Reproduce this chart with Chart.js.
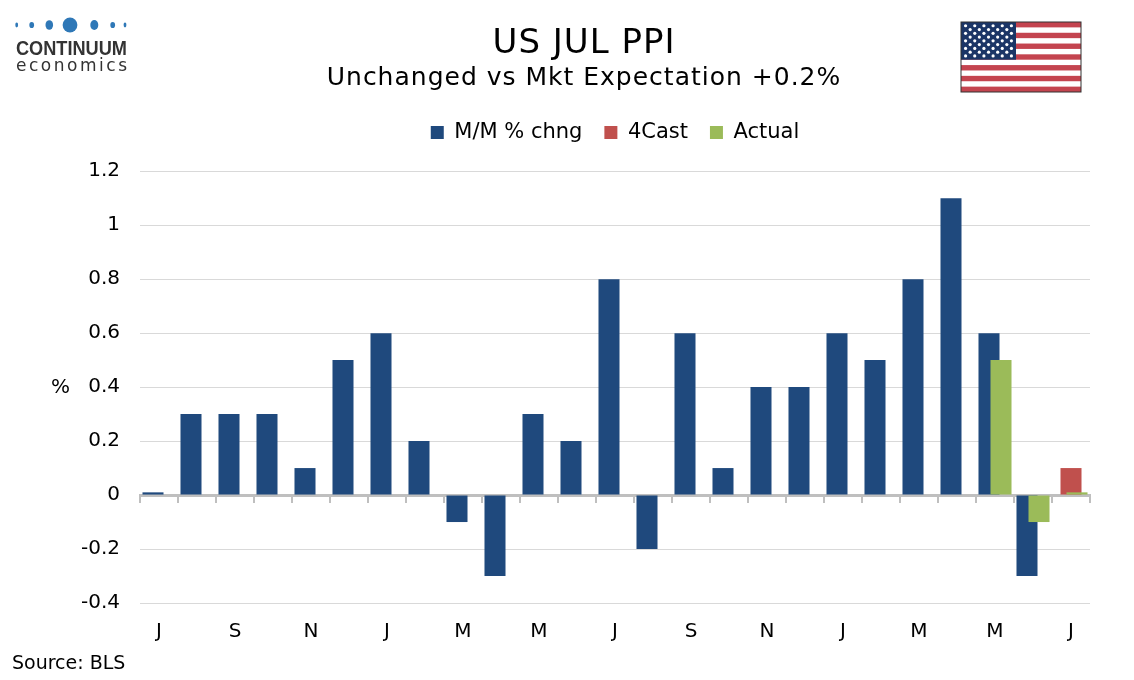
<!DOCTYPE html>
<html>
<head>
<meta charset="utf-8">
<title>US JUL PPI</title>
<script src="https://cdn.jsdelivr.net/npm/chart.js@4.4.1/dist/chart.umd.min.js"></script>
<style>
  body { margin: 0; background: #fff; font-family: "DejaVu Sans", Verdana, sans-serif; }
  #wrap { position: relative; width: 1134px; height: 680px; overflow: hidden; }
  #chart { position: absolute; left: 0; top: 0; }
  .title { position: absolute; left: 0; width: 1168px; text-align: center; color: #000; white-space: nowrap; }
  #t1 { top: 21px; font-size: 34px; letter-spacing: 1px; }
  #t2 { top: 62px; font-size: 25px; letter-spacing: 1px; }
  #pct { position: absolute; left: 51px; top: 374px; font-size: 20px; }
  #source { position: absolute; left: 12px; top: 651px; font-size: 19px; }
  #logo { position: absolute; left: 0; top: 0; }
  #flag { position: absolute; left: 960px; top: 21px; }
</style>
</head>
<body>
<div id="wrap">
  <canvas id="chart" width="1134" height="680"></canvas>
  <svg id="logo" width="140" height="80">
    <g fill="#2f78b7" id="dots"></g>
    <text x="16" y="55" font-family="Liberation Sans, Arial, sans-serif" font-weight="bold" font-size="21" fill="#333" textLength="111" lengthAdjust="spacingAndGlyphs">CONTINUUM</text>
    <text x="16" y="71" font-family="DejaVu Sans, sans-serif" font-size="17" fill="#333" textLength="111" lengthAdjust="spacing">economics</text>
  </svg>
  <div class="title" id="t1">US JUL PPI</div>
  <div class="title" id="t2">Unchanged vs Mkt Expectation +0.2%</div>
  <svg id="flag" width="122" height="73"></svg>
  <div id="pct">%</div>
  <div id="source">Source: BLS</div>
</div>
<script>
// month initials, Jul 2023 .. Jul 2025
const monthLabels = ['J', 'A', 'S', 'O', 'N', 'D',
    'J', 'F', 'M', 'A', 'M', 'J', 'J', 'A', 'S', 'O', 'N', 'D',
    'J', 'F', 'M', 'A', 'M', 'J', 'J'];
const mmChange = [0.01, 0.3, 0.3, 0.3, 0.1, 0.5,
    0.6, 0.2, -0.1, -0.3, 0.3, 0.2, 0.8, -0.2, 0.6, 0.1, 0.4, 0.4,
    0.6, 0.5, 0.8, 1.1, 0.6, -0.3, null];
const forecast = [null, null, null, null, null, null,
    null, null, null, null, null, null, null, null, null, null, null, null,
    null, null, null, null, null, null, 0.1];
const actual = [null, null, null, null, null, null,
    null, null, null, null, null, null, null, null, null, null, null, null,
    null, null, null, null, 0.5, -0.1, 0.01];
const yTicks = [-0.4, -0.2, 0, 0.2, 0.4, 0.6, 0.8, 1, 1.2];

const FONT = '"DejaVu Sans", Verdana, sans-serif';

// logo dots
const dots = [[16.7, 1.4, 2.4], [31.7, 2.4, 3.1], [49.3, 3.8, 4.8], [70, 7.4, 7.4],
    [94.3, 4, 5], [112.7, 2.4, 3.1], [125, 1.4, 2.4]];
const dotGroup = document.getElementById('dots');
dots.forEach(function (d) {
    const e = document.createElementNS('http://www.w3.org/2000/svg', 'ellipse');
    e.setAttribute('cx', d[0]); e.setAttribute('cy', 25);
    e.setAttribute('rx', d[1]); e.setAttribute('ry', d[2]);
    dotGroup.appendChild(e);
});

// flag
(function () {
    const svg = document.getElementById('flag');
    const W = 120, H = 70, sh = H / 13;
    let s = '<rect x="1" y="1" width="' + W + '" height="' + H + '" fill="#fff"/>';
    for (let i = 0; i < 13; i += 2) {
        s += '<rect x="1" y="' + (1 + i * sh) + '" width="' + W + '" height="' + sh + '" fill="#c4444f"/>';
    }
    const cw = 55, ch = sh * 7;
    s += '<rect x="1" y="1" width="' + cw + '" height="' + ch + '" fill="#1b3566"/>';
    for (let r = 0; r < 9; r++) {
        const n = r % 2 === 0 ? 6 : 5;
        for (let c = 0; c < n; c++) {
            const x = 1 + cw / 12 * (r % 2 === 0 ? 1 + c * 2 : 2 + c * 2);
            const y = 1 + ch / 10 * (r + 1);
            s += '<circle cx="' + x + '" cy="' + y + '" r="1.6" fill="#fff"/>';
        }
    }
    s += '<rect x="1" y="1" width="' + W + '" height="' + H + '" fill="none" stroke="#333" stroke-width="1"/>';
    svg.innerHTML = s;
})();

// draw datasets first to last so Actual sits on top
const drawInOrder = {
    id: 'drawInOrder',
    beforeDatasetsDraw(chart) {
        chart.getSortedVisibleDatasetMetas().forEach(function (meta) {
            meta.controller.draw();
        });
        return false;
    }
};

const barOpts = { categoryPercentage: 0.474, barPercentage: 3.5, borderWidth: 0 };

new Chart(document.getElementById('chart'), {
    type: 'bar',
    data: {
        labels: monthLabels,
        datasets: [
            Object.assign({ label: 'M/M % chng', data: mmChange, backgroundColor: '#1f497d' }, barOpts),
            Object.assign({ label: '4Cast', data: forecast, backgroundColor: '#c0504d' }, barOpts),
            Object.assign({ label: 'Actual', data: actual, backgroundColor: '#9bbb59' }, barOpts)
        ]
    },
    options: {
        responsive: false,
        animation: false,
        layout: { padding: { top: 100, right: 44, left: 0, bottom: 0 } },
        plugins: {
            legend: {
                position: 'top',
                fullSize: false,
                labels: {
                    boxWidth: 13, boxHeight: 13, padding: 22,
                    color: '#000', font: { family: FONT, size: 21 }
                }
            },
            // empty spacer between legend and plot
            subtitle: {
                display: true,
                text: '',
                weight: 500,
                fullSize: false,
                font: { size: 1 },
                padding: { top: 0, bottom: 17 }
            },
            tooltip: { enabled: false }
        },
        scales: {
            x: {
                grid: { display: false },
                border: { display: false },
                ticks: {
                    autoSkip: false, maxRotation: 0, padding: 9,
                    color: '#000', font: { family: FONT, size: 20 },
                    callback: function (v, i) { return i % 2 === 0 ? monthLabels[i] : ''; }
                },
                afterFit: function (s) { s.height = 77; }
            },
            x2: {
                type: 'category',
                position: { y: 0 },
                offset: true,
                z: 1,
                ticks: { display: false },
                grid: {
                    offset: true, drawOnChartArea: false, drawTicks: true,
                    tickLength: 6, color: '#bfbfbf', lineWidth: 2
                },
                border: { display: true, color: '#bfbfbf', width: 3 }
            },
            y: {
                min: yTicks[0],
                max: yTicks[yTicks.length - 1],
                afterBuildTicks: function (s) { s.ticks = yTicks.map(function (v) { return { value: v }; }); },
                ticks: {
                    padding: 20, color: '#000', font: { family: FONT, size: 20 },
                    callback: function (v) { return String(+v.toFixed(1)); }
                },
                grid: {
                    drawTicks: false, lineWidth: 1,
                    color: function (c) { return c.tick && c.tick.value === 0 ? 'rgba(0,0,0,0)' : '#d9d9d9'; }
                },
                border: { display: false },
                afterFit: function (s) { s.width = 140; }
            }
        }
    },
    plugins: [drawInOrder]
});
</script>
</body>
</html>
